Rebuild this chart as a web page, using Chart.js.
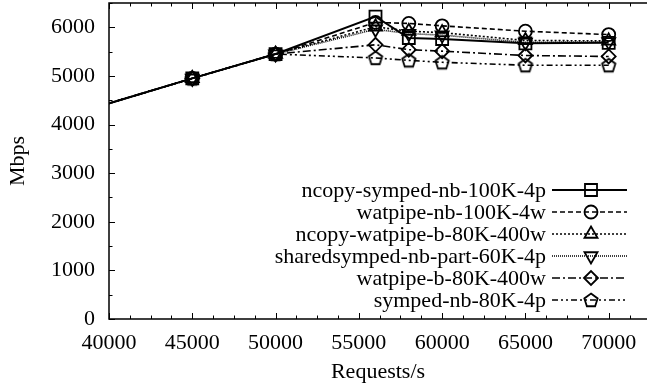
<!DOCTYPE html>
<html>
<head>
<meta charset="utf-8">
<script src="https://cdn.jsdelivr.net/npm/chart.js@4.4.1/dist/chart.umd.min.js"></script>
<style>
  html, body { margin: 0; padding: 0; background: #fff; }
  #wrap { width: 647px; height: 391px; }
</style>
</head>
<body>
<div id="wrap"><canvas id="chart"></canvas></div>
<script>
// requests/s (first point lies left of the visible range, the line enters from the edge)
const requests = [35000, 45000, 50000, 56000, 58000, 60000, 65000, 70000];

// Mbps per configuration
const ncopySymped100K = [3920, 4950, 5450, 6220, 5780, 5760, 5670, 5680];
const watpipeNb100K = [3920, 4950, 5450, 6100, 6080, 6030, 5920, 5850];
const ncopyWatpipeB80K = [3920, 4950, 5450, 6010, 5920, 5890, 5730, 5720];
const sharedSympedPart60K = [3920, 4950, 5450, 5960, 5870, 5840, 5690, 5700];
const watpipeB80K = [3920, 4950, 5450, 5640, 5540, 5510, 5420, 5400];
const sympedNb80K = [3920, 4950, 5450, 5370, 5320, 5280, 5220, 5220];

const seriesNames = [
  'ncopy-symped-nb-100K-4p',
  'watpipe-nb-100K-4w',
  'ncopy-watpipe-b-80K-400w',
  'sharedsymped-nb-part-60K-4p',
  'watpipe-b-80K-400w',
  'symped-nb-80K-4p'
];

const xTickValues = [40000, 45000, 50000, 55000, 60000, 65000, 70000];
const yTickValues = [0, 1000, 2000, 3000, 4000, 5000, 6000];

const FONT = '"Liberation Serif", "DejaVu Serif", serif';
const FSIZE = 22;

// pentagon marker (no built-in style for it)
function makePentagon() {
  const c = document.createElement('canvas');
  c.width = 18; c.height = 18;
  const g = c.getContext('2d');
  g.strokeStyle = '#000';
  g.lineWidth = 1.8;
  g.beginPath();
  for (let i = 0; i < 5; i++) {
    const a = -Math.PI / 2 + i * 2 * Math.PI / 5;
    const px = 9 + 7 * Math.cos(a), py = 9.6 + 7 * Math.sin(a);
    if (i === 0) g.moveTo(px, py); else g.lineTo(px, py);
  }
  g.closePath();
  g.stroke();
  return c;
}
const pentagon = makePentagon();

const styles = [
  { dash: [], width: 2, point: 'rect', rot: 0, r: 8.5 },
  { dash: [5, 3], width: 1.6, point: 'circle', rot: 0, r: 6.5 },
  { dash: [2, 2], width: 1.6, point: 'triangle', rot: 0, r: 7.5 },
  { dash: [1, 1], width: 1.6, point: 'triangle', rot: 180, r: 7.5 },
  { dash: [8, 3, 2, 3], width: 1.6, point: 'rectRot', rot: 0, r: 7 },
  { dash: [6, 3, 2, 3, 2, 3], width: 1.6, point: pentagon, rot: 0, r: 7 }
];

const allSeries = [ncopySymped100K, watpipeNb100K, ncopyWatpipeB80K, sharedSympedPart60K, watpipeB80K, sympedNb80K];

const datasets = allSeries.map((vals, i) => ({
  label: seriesNames[i],
  data: requests.map((x, k) => ({ x: x, y: vals[k] })),
  borderColor: '#000',
  borderWidth: styles[i].width,
  borderDash: styles[i].dash,
  pointStyle: styles[i].point,
  pointRotation: styles[i].rot,
  pointRadius: styles[i].r,
  pointBorderWidth: 1.8,
  pointBorderColor: '#000',
  pointBackgroundColor: 'rgba(0,0,0,0)',
  tension: 0,
  clip: { left: 0, top: false, right: false, bottom: false }
}));

// gnuplot-like frame with inward ticks
const framePlugin = {
  id: 'frame',
  afterDraw(chart) {
    const { ctx, chartArea: a, scales } = chart;
    const xs = scales.x, ys = scales.y;
    ctx.save();
    ctx.strokeStyle = '#000';
    ctx.lineWidth = 1.5;
    ctx.setLineDash([]);
    ctx.beginPath();
    ctx.moveTo(a.right + 2, a.top); ctx.lineTo(a.left, a.top);
    ctx.lineTo(a.left, a.bottom); ctx.lineTo(a.right + 2, a.bottom);
    ctx.stroke();
    ctx.lineWidth = 1;
    ctx.beginPath();
    for (let v = 0; v <= 6500; v += 500) {
      const y = Math.round(ys.getPixelForValue(v)) + 0.5;
      const len = v % 1000 === 0 ? 6 : 3.5;
      ctx.moveTo(a.left, y); ctx.lineTo(a.left + len, y);
    }
    for (let v = 40000; v <= xs.max; v += 1250) {
      const x = Math.round(xs.getPixelForValue(v)) + 0.5;
      const len = v % 5000 === 0 ? 6 : 3.5;
      ctx.moveTo(x, a.bottom); ctx.lineTo(x, a.bottom - len);
      ctx.moveTo(x, a.top); ctx.lineTo(x, a.top + len);
    }
    ctx.stroke();
    ctx.restore();
  }
};

// legend: right-aligned text with line sample on the right
const keyPlugin = {
  id: 'key',
  afterDatasetsDraw(chart) {
    const ctx = chart.ctx;
    ctx.save();
    ctx.font = FSIZE + 'px ' + FONT;
    ctx.textAlign = 'right';
    ctx.textBaseline = 'middle';
    chart.data.datasets.forEach((ds, i) => {
      const y = 190 + i * 22;
      ctx.fillStyle = '#000';
      ctx.fillText(ds.label, 546, y + 1);
      ctx.strokeStyle = '#000';
      ctx.lineWidth = ds.borderWidth;
      ctx.setLineDash(ds.borderDash);
      ctx.beginPath();
      ctx.moveTo(552, y); ctx.lineTo(627, y);
      ctx.stroke();
      ctx.setLineDash([]);
      ctx.lineWidth = ds.pointBorderWidth;
      ctx.fillStyle = 'rgba(0,0,0,0)';
      Chart.helpers.drawPoint(ctx, {
        pointStyle: ds.pointStyle,
        rotation: ds.pointRotation,
        radius: ds.pointRadius,
        borderWidth: ds.pointBorderWidth
      }, 591, y);
    });
    ctx.restore();
  }
};

const noPad = s => { s.paddingLeft = 0; s.paddingRight = 0; s.paddingTop = 0; s.paddingBottom = 0; };

new Chart(document.getElementById('chart'), {
  type: 'line',
  data: { datasets: datasets },
  plugins: [framePlugin, keyPlugin],
  options: {
    responsive: true,
    maintainAspectRatio: false,
    animation: false,
    layout: { autoPadding: false, padding: { top: 3, right: 0, bottom: 0, left: 0 } },
    plugins: { legend: { display: false }, tooltip: { enabled: false } },
    scales: {
      x: {
        type: 'linear',
        min: 40000,
        max: 72300,
        grid: { display: false, drawTicks: false },
        border: { display: false },
        afterBuildTicks: s => { s.ticks = xTickValues.map(v => ({ value: v })); },
        afterFit: s => { s.height = 72; noPad(s); },
        ticks: {
          color: '#000',
          font: { family: FONT, size: FSIZE },
          padding: 11,
          maxRotation: 0,
          callback: v => String(v)
        },
        title: {
          display: true,
          text: 'Requests/s',
          color: '#000',
          font: { family: FONT, size: FSIZE },
          padding: { top: 2, bottom: 6 }
        }
      },
      y: {
        min: 0,
        max: 6500,
        grid: { display: false, drawTicks: false },
        border: { display: false },
        afterBuildTicks: s => { s.ticks = yTickValues.map(v => ({ value: v })); },
        afterFit: s => { s.width = 109; noPad(s); },
        ticks: {
          color: '#000',
          font: { family: FONT, size: FSIZE },
          padding: 14,
          callback: v => String(v)
        },
        title: {
          display: true,
          text: 'Mbps',
          color: '#000',
          font: { family: FONT, size: FSIZE },
          padding: { top: 5, bottom: 0 }
        }
      }
    }
  }
});
</script>
</body>
</html>
